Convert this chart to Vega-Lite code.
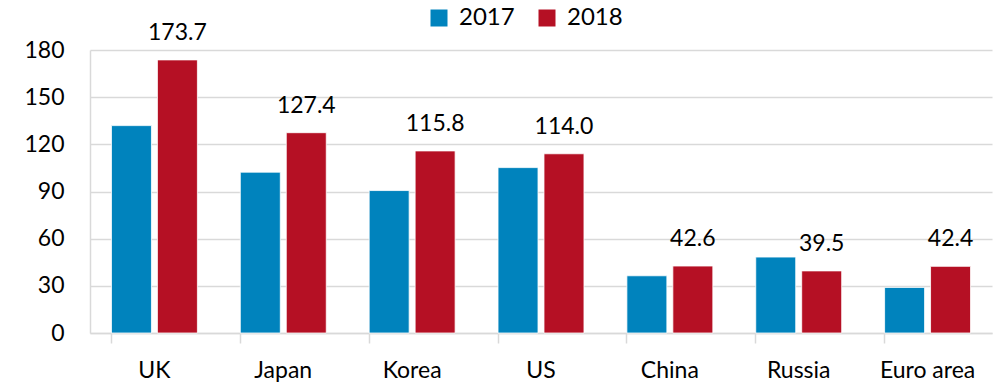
{
  "$schema": "https://vega.github.io/schema/vega-lite/v6.json",
  "width": 902,
  "height": 283,
  "autosize": "none",
  "padding": {"left": 90, "top": 50, "right": 8, "bottom": 53},
  "background": "white",
  "config": {
    "font": "Lato",
    "view": {"stroke": null},
    "axis": {"labelFont": "Lato", "labelFontSize": 23, "labelColor": "#000000"},
    "legend": {"labelFont": "Lato", "labelFontSize": 24, "labelColor": "#000000"}
  },
  "data": {
    "values": [
      {"country": "UK", "year": "2017", "value": 131.9},
      {"country": "UK", "year": "2018", "value": 173.7},
      {"country": "Japan", "year": "2017", "value": 102.3},
      {"country": "Japan", "year": "2018", "value": 127.4},
      {"country": "Korea", "year": "2017", "value": 90.6},
      {"country": "Korea", "year": "2018", "value": 115.8},
      {"country": "US", "year": "2017", "value": 105.2},
      {"country": "US", "year": "2018", "value": 114.0},
      {"country": "China", "year": "2017", "value": 36.4},
      {"country": "China", "year": "2018", "value": 42.6},
      {"country": "Russia", "year": "2017", "value": 48.3},
      {"country": "Russia", "year": "2018", "value": 39.5},
      {"country": "Euro area", "year": "2017", "value": 29.0},
      {"country": "Euro area", "year": "2018", "value": 42.4}
    ]
  },
  "encoding": {
    "x": {
      "field": "country", "type": "nominal", "sort": null,
      "scale": {"paddingInner": 0.333, "paddingOuter": 0.1665},
      "axis": {
        "title": null, "labelAngle": 0, "bandPosition": 0,
        "domainColor": "#d9d9d9", "domainWidth": 1.5,
        "tickColor": "#d9d9d9", "tickWidth": 1.5, "tickSize": 10,
        "labelPadding": 16
      }
    },
    "xOffset": {
      "field": "year", "type": "nominal",
      "scale": {"paddingInner": 0.13, "paddingOuter": 0}
    },
    "y": {
      "field": "value", "type": "quantitative",
      "scale": {"domain": [0, 180]},
      "axis": {
        "title": null, "values": [0, 30, 60, 90, 120, 150, 180],
        "domainColor": "#d9d9d9", "domainWidth": 1.5,
        "ticks": false, "tickSize": 0, "labelPadding": 26,
        "gridColor": "#d9d9d9", "gridWidth": 1.5
      }
    }
  },
  "layer": [
    {
      "mark": {"type": "bar", "stroke": "white", "strokeWidth": 0.8},
      "encoding": {
        "color": {
          "field": "year", "type": "nominal",
          "scale": {"domain": ["2017", "2018"], "range": ["#0083BD", "#B51024"]},
          "legend": {
            "title": null, "orient": "none", "direction": "horizontal",
            "legendX": 337, "legendY": -44,
            "symbolType": "square", "symbolSize": 289, "symbolStrokeWidth": 0,
            "columnPadding": 20, "labelOffset": 8
          }
        }
      }
    },
    {
      "transform": [{"filter": "datum.year == '2018'"}],
      "mark": {"type": "text", "baseline": "alphabetic", "dy": -20, "fontSize": 23, "color": "#000000"},
      "encoding": {
        "text": {"field": "value", "type": "quantitative", "format": ".1f"}
      }
    }
  ]
}
